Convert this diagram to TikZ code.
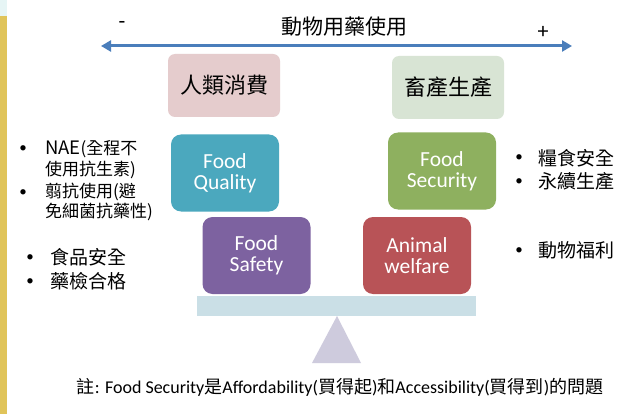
\documentclass[tikz,border=0pt]{standalone}
\usepackage{fontspec}
\setmainfont{Carlito}
\newfontfamily\cjk{Noto Sans CJK TC}
\usetikzlibrary{arrows.meta}
\definecolor{stripY}{HTML}{E0C45A}
\definecolor{stripC}{HTML}{E6F5F5}
\definecolor{axisblue}{HTML}{4A7EBB}
\definecolor{pinkbox}{HTML}{E5CCCD}
\definecolor{greenbox}{HTML}{D8E4D4}
\definecolor{tealbox}{HTML}{4BA8BE}
\definecolor{purplebox}{HTML}{7D62A0}
\definecolor{secgreen}{HTML}{8EB05F}
\definecolor{redbox}{HTML}{B85357}
\definecolor{beam}{HTML}{CADFE6}
\definecolor{fulcrum}{HTML}{CECBDD}
\tikzset{
  x=1pt,y=-1pt,
  topbox/.style={rounded corners=7pt, minimum width=112pt, minimum height=63pt, inner sep=0pt, font=\cjk\fontsize{22}{24}\selectfont},
  pillar/.style={rounded corners=10pt, minimum width=108pt, minimum height=77pt, inner sep=0pt, text=white, align=center, font=\fontsize{21.5}{21}\selectfont},
  bulA/.style={anchor=west, inner sep=0pt, font=\cjk\fontsize{17}{18}\selectfont},
  bulB/.style={anchor=west, inner sep=0pt, font=\cjk\fontsize{19}{20}\selectfont},
  dot/.style={anchor=center, inner sep=0pt, font=\fontsize{15}{15}\selectfont}
}
\begin{document}
\begin{tikzpicture}
\useasboundingbox (0,0) rectangle (634,414);
\fill[white] (0,0) rectangle (634,414);
\fill[stripC] (0,0) rectangle (7,16);
\fill[stripY] (0,16) rectangle (7,414);
% axis
\coordinate (aL) at (101,46);
\coordinate (aR) at (572,46);
\draw[axisblue, line width=3pt, {Triangle[length=10pt,width=11pt]}-{Triangle[length=10pt,width=11pt]}] (aL) -- (aR);
\node[inner sep=0pt, font=\fontsize{22}{22}\selectfont] (minus) at (122,25) {-};
\node[inner sep=0pt, font=\fontsize{22}{22}\selectfont] (plus) at (543,32) {+};
\node[inner sep=0pt, font=\cjk\fontsize{21}{22}\selectfont] (title) at (344,27) {動物用藥使用};
% top boxes
\node[topbox, fill=pinkbox] (human) at (224,85.5) {人類消費};
\node[topbox, fill=greenbox] (prod) at (448,87.5) {畜產生產};
% pillars
\node[pillar, fill=tealbox] (fq) at (225,173) {Food\\Quality};
\node[pillar, fill=purplebox] (fs) at (256.5,255.5) {Food\\Safety};
\node[pillar, fill=secgreen] (fsec) at (442,171) {Food\\Security};
\node[pillar, fill=redbox] (aw) at (417,255.5) {Animal\\welfare};
% beam and fulcrum
\node[fill=beam, minimum width=279pt, minimum height=20pt, inner sep=0pt] (beam) at (336.5,306) {};
\fill[fulcrum] (337,316) -- (361,363) -- (312,363) -- cycle;
% left bullets
\node[dot] (d1) at (23,149) {•};
\node[bulA] (t1) at (45,149) {{\fontsize{18.5}{18}\selectfont NAE}(全程不};
\node[bulA] (t2) at (45,170) {使用抗生素)};
\node[dot] (d2) at (23,193) {•};
\node[bulA] (t3) at (45,192) {翦抗使用(避};
\node[bulA] (t4) at (45,212) {免細菌抗藥性)};
\node[dot] (d3) at (30,258) {•};
\node[bulB] (t5) at (50,257) {食品安全};
\node[dot] (d4) at (30,282) {•};
\node[bulB] (t6) at (50,281) {藥檢合格};
% right bullets
\node[dot] (d5) at (519,158) {•};
\node[bulB] (r1) at (538,158) {糧食安全};
\node[dot] (d6) at (519,182) {•};
\node[bulB] (r2) at (538,181) {永續生產};
\node[dot] (d7) at (519,251) {•};
\node[bulB] (r3) at (538,250) {動物福利};
% footnote
\node[inner sep=0pt, font=\fontsize{18}{19}\selectfont] (note) at (340,387) {{\cjk 註}: Food Security{\cjk 是}Affordability({\cjk 買得起}){\cjk 和}Accessibility({\cjk 買得到}){\cjk 的問題}};
\end{tikzpicture}
\end{document}
